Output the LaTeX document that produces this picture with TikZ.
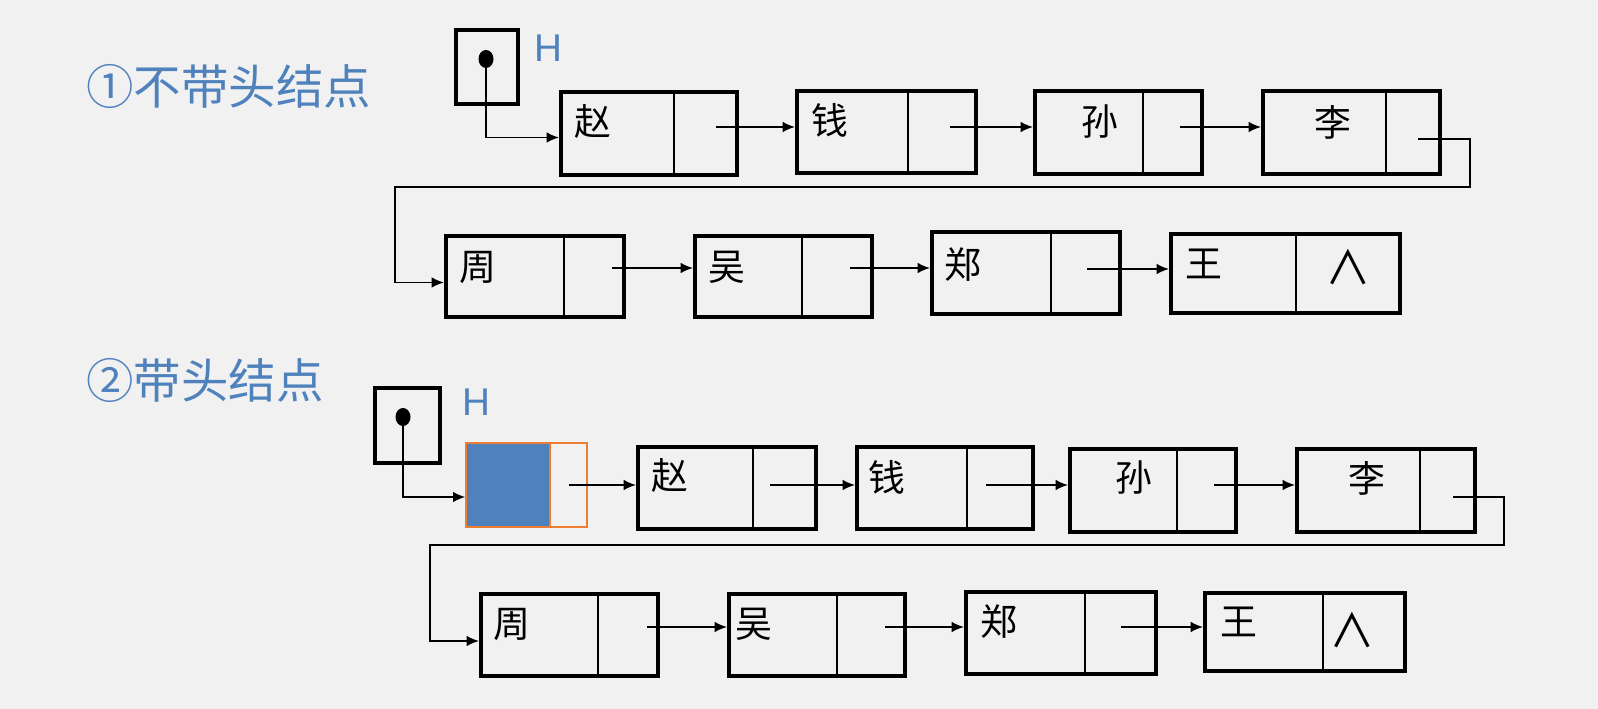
\documentclass[tikz,border=0pt]{standalone}
\usepackage{fontspec}
\setmainfont{Liberation Sans}
\newfontfamily\cjk{Noto Sans CJK SC}
\usepackage{tikz}
\usetikzlibrary{arrows.meta,backgrounds,shapes.geometric}
\definecolor{titleblue}{RGB}{79,129,189}
\definecolor{headorange}{RGB}{237,125,49}
\definecolor{paper}{RGB}{241,241,241}
\newcommand{\px}{0.02cm}
\newcommand{\boxline}{2.3pt}
\newcommand{\linkline}{0.9pt}
\tikzset{
  cell/.style={draw, line width=\boxline, inner sep=0pt},
  divider/.style={line width=\linkline},
  link/.style={line width=\linkline, -{Latex[length=7pt,width=6pt]}},
  datum/.style={font=\cjk\fontsize{21}{21}\selectfont, inner sep=0pt},
  nil/.style={font=\cjk\fontsize{26}{26}\selectfont, inner sep=0pt},
  title/.style={font=\cjk\fontsize{27}{27}\selectfont, text=titleblue, inner sep=0pt, anchor=west},
  hlabel/.style={font=\fontsize{22}{22}\selectfont, text=titleblue, inner sep=0pt},
  dot/.style={fill, ellipse, inner sep=0pt, minimum width=15*\px, minimum height=18*\px}
}

\begin{document}
\begin{tikzpicture}[x=\px, y=-\px]
\useasboundingbox (0,0) rectangle (1598,709);
\fill[paper] (0,0) rectangle (1598,709);
%titles
\node[title] (t1) at (86,86) {①不带头结点};
\node[title] (t2) at (86,380) {②带头结点};
%list without head
\node[cell, minimum width=62*\px, minimum height=74*\px] (pa) at (487,67) {};
\node[dot] (pa0) at (486,59) {};
\node[hlabel] (ha) at (548,48) {H};
\node[cell, minimum width=176*\px, minimum height=83*\px] (a1) at (649,133.5) {};
\node[cell, minimum width=179*\px, minimum height=82*\px] (a2) at (886.5,132) {};
\node[cell, minimum width=167*\px, minimum height=83*\px] (a3) at (1118.5,132.5) {};
\node[cell, minimum width=177*\px, minimum height=83*\px] (a4) at (1351.5,132.5) {};
\node[cell, minimum width=178*\px, minimum height=81*\px] (a5) at (535,276.5) {};
\node[cell, minimum width=177*\px, minimum height=81*\px] (a6) at (783.5,276.5) {};
\node[cell, minimum width=188*\px, minimum height=82*\px] (a7) at (1026,273) {};
\node[cell, minimum width=229*\px, minimum height=79*\px] (a8) at (1285.5,273.5) {};
\draw[divider] (674,92) -- (674,175);
\draw[divider] (908,91) -- (908,173);
\draw[divider] (1143,91) -- (1143,174);
\draw[divider] (1386,91) -- (1386,174);
\draw[divider] (564,236) -- (564,317);
\draw[divider] (802,236) -- (802,317);
\draw[divider] (1051,232) -- (1051,314);
\draw[divider] (1296,234) -- (1296,313);
\node[datum] (a1t) at (593,122) {赵};
\node[datum] (a2t) at (830,120) {钱};
\node[datum] (a3t) at (1100,122) {孙};
\node[datum] (a4t) at (1333,122) {李};
\node[datum] (a5t) at (478,267) {周};
\node[datum] (a6t) at (727,267) {吴};
\node[datum] (a7t) at (963,265) {郑};
\node[datum] (a8t) at (1204,264) {王};
\node[nil] (a8n) at (1348,267) {∧};
\coordinate (a1s) at (716,127);
\coordinate (a2s) at (950,127);
\coordinate (a3s) at (1180,127);
\coordinate (a4s) at (1418,139);
\coordinate (a5s) at (612,268);
\coordinate (a6s) at (850,268);
\coordinate (a7s) at (1087,269);
\coordinate (ra1) at (1470,187);
\coordinate (ra2) at (395,187);
\draw[link] (pa0.center) |- ([yshift=-4*\px]a1.west);
\draw[link] (a1s) -- (a2.west |- a1s);
\draw[link] (a2s) -- (a3.west |- a2s);
\draw[link] (a3s) -- (a4.west |- a3s);
\draw[link] (a4s) -| (ra1) -- (ra2) |- ([yshift=-6*\px]a5.west);
\draw[link] (a5s) -- (a6.west |- a5s);
\draw[link] (a6s) -- (a7.west |- a6s);
\draw[link] (a7s) -- (a8.west |- a7s);
%list with head
\node[cell, minimum width=65*\px, minimum height=75*\px] (pb) at (407.5,425.5) {};
\node[dot] (pb0) at (403,417) {};
\node[hlabel] (hb) at (476,402) {H};
\node[fill=titleblue, draw=headorange, line width=0.8pt, minimum width=84*\px, minimum height=84*\px, inner sep=0pt] (b0d) at (508,485) {};
\node[draw=headorange, line width=0.8pt, minimum width=37*\px, minimum height=84*\px, inner sep=0pt] (b0p) at (568.5,485) {};
\node[cell, minimum width=178*\px, minimum height=82*\px] (b1) at (727,488) {};
\node[cell, minimum width=176*\px, minimum height=82*\px] (b2) at (945,488) {};
\node[cell, minimum width=166*\px, minimum height=83*\px] (b3) at (1153,490.5) {};
\node[cell, minimum width=178*\px, minimum height=83*\px] (b4) at (1386,490.5) {};
\node[cell, minimum width=177*\px, minimum height=82*\px] (b5) at (569.5,635) {};
\node[cell, minimum width=176*\px, minimum height=82*\px] (b6) at (817,635) {};
\node[cell, minimum width=190*\px, minimum height=82*\px] (b7) at (1061,633) {};
\node[cell, minimum width=200*\px, minimum height=78*\px] (b8) at (1305,632) {};
\draw[divider] (753,447) -- (753,529);
\draw[divider] (967,447) -- (967,529);
\draw[divider] (1177,449) -- (1177,532);
\draw[divider] (1420,449) -- (1420,532);
\draw[divider] (598,594) -- (598,676);
\draw[divider] (837,594) -- (837,676);
\draw[divider] (1085,592) -- (1085,674);
\draw[divider] (1323,593) -- (1323,671);
\node[datum] (b1t) at (670,476) {赵};
\node[datum] (b2t) at (887,477) {钱};
\node[datum] (b3t) at (1134,478) {孙};
\node[datum] (b4t) at (1367,478) {李};
\node[datum] (b5t) at (512,624) {周};
\node[datum] (b6t) at (754,624) {吴};
\node[datum] (b7t) at (999,622) {郑};
\node[datum] (b8t) at (1239,622) {王};
\node[nil] (b8n) at (1352,630) {∧};
\coordinate (b1s) at (770,485);
\coordinate (b2s) at (986,485);
\coordinate (b3s) at (1214,485);
\coordinate (b4s) at (1453,497);
\coordinate (b5s) at (647,627);
\coordinate (b6s) at (885,627);
\coordinate (b7s) at (1121,627);
\coordinate (rb1) at (1504,545);
\coordinate (rb2) at (430,545);
\draw[link] (pb0.center) |- ([yshift=-12*\px]b0d.west);
\draw[link] (b0p.center) -- (b1.west |- b0p.center);
\draw[link] (b1s) -- (b2.west |- b1s);
\draw[link] (b2s) -- (b3.west |- b2s);
\draw[link] (b3s) -- (b4.west |- b3s);
\draw[link] (b4s) -| (rb1) -- (rb2) |- ([yshift=-6*\px]b5.west);
\draw[link] (b5s) -- (b6.west |- b5s);
\draw[link] (b6s) -- (b7.west |- b6s);
\draw[link] (b7s) -- (b8.west |- b7s);
\end{tikzpicture}
\end{document}
